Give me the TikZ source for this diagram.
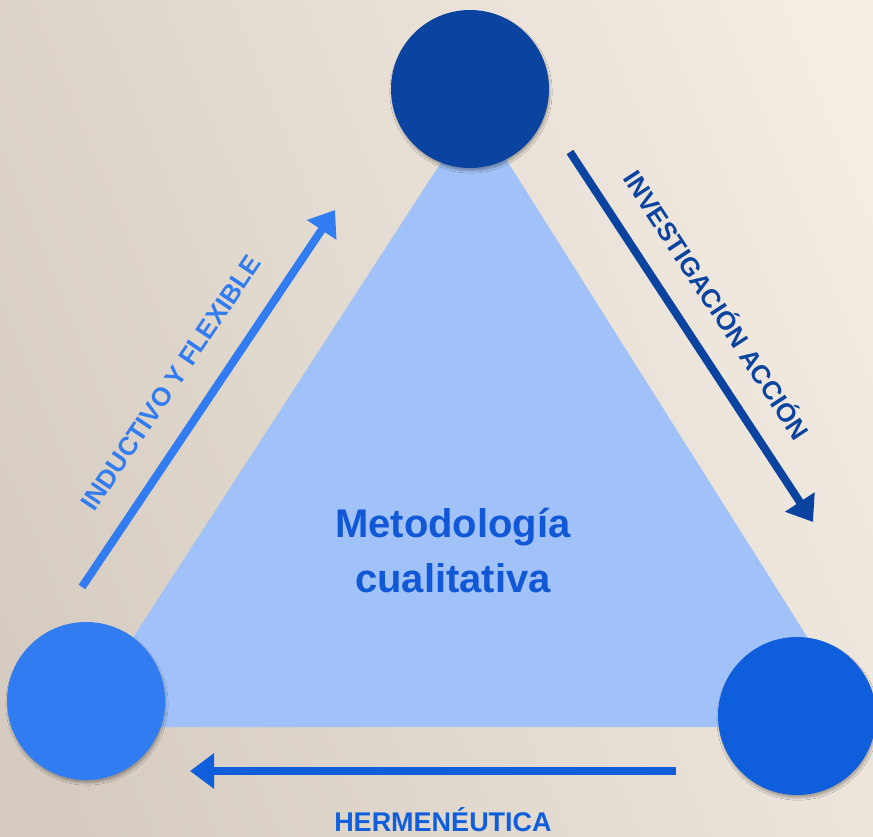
\documentclass[tikz,border=0pt]{standalone}
\usepackage{fontspec}
\setmainfont{Liberation Sans}
\usetikzlibrary{arrows.meta,shadows.blur}
\definecolor{bgdark}{HTML}{D5CBC1}
\definecolor{bglight}{HTML}{F4EDE3}
\definecolor{tri}{HTML}{A1C2F8}
\definecolor{topc}{HTML}{0B44A0}
\definecolor{leftc}{HTML}{327CF1}
\definecolor{rightc}{HTML}{0F5FDD}
\definecolor{txtc}{HTML}{1158D6}
\begin{document}
\begin{tikzpicture}[x=1pt,y=-1pt,
  vertex/.style={circle,minimum size=158pt,inner sep=0pt,
    blur shadow={shadow xshift=1pt,shadow yshift=-3pt,shadow blur steps=6,shadow opacity=30}},
  arr/.style={line width=8pt,-{Triangle[length=24pt,width=34pt]}},
  lbl/.style={font=\bfseries\fontsize{26}{30}\selectfont,inner sep=0pt},
  big/.style={font=\bfseries\fontsize{40}{46}\selectfont,text=txtc,inner sep=0pt}]
\useasboundingbox (0,0) rectangle (873,836);
\shade[left color=bgdark,right color=bglight,shading angle=112] (-60,-60) rectangle (933,896);
\fill[tri] (475,110) -- (75,727) -- (864,727) -- cycle;
\node[vertex,fill=topc] (top) at (470,89) {};
\node[vertex,fill=leftc] (left) at (86,701) {};
\node[vertex,fill=rightc] (right) at (797,716) {};
\node[big,anchor=base] (m1) at (453,537) {Metodología};
\node[big,anchor=base] (m2) at (453,592) {cualitativa};
\coordinate (ia) at (82,587);
\coordinate (ib) at (335,210);
\coordinate (ra) at (570,152);
\coordinate (rb) at (813,522);
\coordinate (ba) at (676,771);
\coordinate (bb) at (190,771);
\draw[arr,draw=leftc,fill=leftc] (ia) -- (ib);
\draw[arr,draw=topc,fill=topc] (ra) -- (rb);
\draw[arr,draw=rightc,fill=rightc] (ba) -- (bb);
\node[lbl,text=leftc,rotate=56.1] (li) at (171,383) {INDUCTIVO Y FLEXIBLE};
\node[lbl,text=topc,rotate=-56.7] (ri) at (718,304) {INVESTIGACIÓN ACCIÓN};
\node[lbl,text=rightc,anchor=base,font=\bfseries\fontsize{27}{30}\selectfont] (bi) at (443,831) {HERMENÉUTICA};
\end{tikzpicture}
\end{document}
